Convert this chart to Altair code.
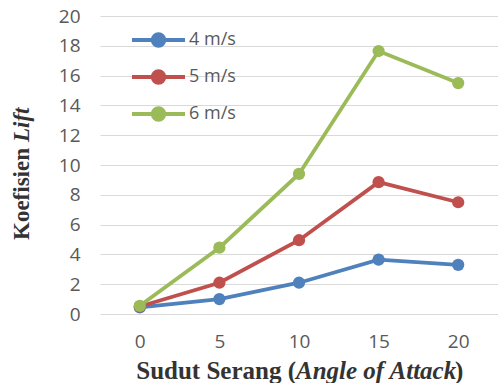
import altair as alt
import pandas as pd

angles = [0, 5, 10, 15, 20]
series = ["4 m/s", "5 m/s", "6 m/s"]
cl_4 = [0.45, 1.0, 2.1, 3.65, 3.3]
cl_5 = [0.5, 2.1, 4.95, 8.85, 7.5]
cl_6 = [0.55, 4.45, 9.4, 17.65, 15.5]
colors = ["#4F81BD", "#C0504D", "#9BBB59"]
y_ticks = [0, 2, 4, 6, 8, 10, 12, 14, 16, 18, 20]

rows = []
for s, vals in zip(series, [cl_4, cl_5, cl_6]):
    for a, v in zip(angles, vals):
        rows.append({"angle": a, "series": s, "cl": v})
df = pd.DataFrame(rows)

W, H = 398, 298
sym = "M-1,0L1,0M-0.22,0A0.22,0.22,0,1,0,0.22,0A0.22,0.22,0,1,0,-0.22,0Z"

lines = alt.Chart(df).mark_line(
    strokeWidth=3.8, point=alt.OverlayMarkDef(filled=True, size=150)
).encode(
    x=alt.X("angle:O", sort=angles,
            scale=alt.Scale(type="point", padding=0.5),
            axis=alt.Axis(title=None, labelAngle=0, domain=False, ticks=False,
                          labelPadding=18, labelFontSize=19, labelColor="#595959",
                          labelFont="Open Sans", grid=False)),
    y=alt.Y("cl:Q", scale=alt.Scale(domain=[0, 20]),
            axis=alt.Axis(title=None, values=y_ticks, domain=False, ticks=False,
                          labelPadding=20, labelFontSize=19, labelColor="#595959",
                          labelFont="Open Sans", gridColor="#D9D9D9", gridWidth=1)),
    color=alt.Color("series:N", scale=alt.Scale(domain=series, range=colors),
                    legend=alt.Legend(title=None, orient="none", legendX=30, legendY=14,
                                      symbolType=sym, symbolSize=2809,
                                      symbolStrokeWidth=3.8, labelFontSize=18,
                                      labelColor="#595959", labelFont="Open Sans",
                                      clipHeight=20, rowPadding=17, labelOffset=2,
                                      padding=0)),
)

tstyle = dict(baseline="alphabetic", font="Liberation Serif", fontWeight="bold",
              color="#333333")

xt1 = alt.Chart(pd.DataFrame({"t": ["Sudut Serang ("]})).mark_text(
    align="right", fontSize=25, **tstyle).encode(
    x=alt.value(196), y=alt.value(H + 65), text="t:N")
xt2 = alt.Chart(pd.DataFrame({"t": ["Angle of Attack"]})).mark_text(
    align="left", fontSize=25, fontStyle="italic", **tstyle).encode(
    x=alt.value(196), y=alt.value(H + 65), text="t:N")
xt3 = alt.Chart(pd.DataFrame({"t": [")"]})).mark_text(
    align="left", fontSize=25, **tstyle).encode(
    x=alt.value(355), y=alt.value(H + 65), text="t:N")

yt1 = alt.Chart(pd.DataFrame({"t": ["Koefisien "]})).mark_text(
    align="left", fontSize=23, angle=270, **tstyle).encode(
    x=alt.value(-71), y=alt.value(224), text="t:N")
yt2 = alt.Chart(pd.DataFrame({"t": ["Lift"]})).mark_text(
    align="left", fontSize=23, angle=270, fontStyle="italic", **tstyle).encode(
    x=alt.value(-71), y=alt.value(126), text="t:N")

chart = alt.layer(lines, xt1, xt2, xt3, yt1, yt2).properties(
    width=W, height=H,
    padding={"left": 100, "top": 16, "right": 0, "bottom": 69},
    autosize=alt.AutoSizeParams(type="none"),
    background="white",
).configure_view(stroke=None)

chart.save("out.html", embed_options={"renderer": "svg", "actions": False})
